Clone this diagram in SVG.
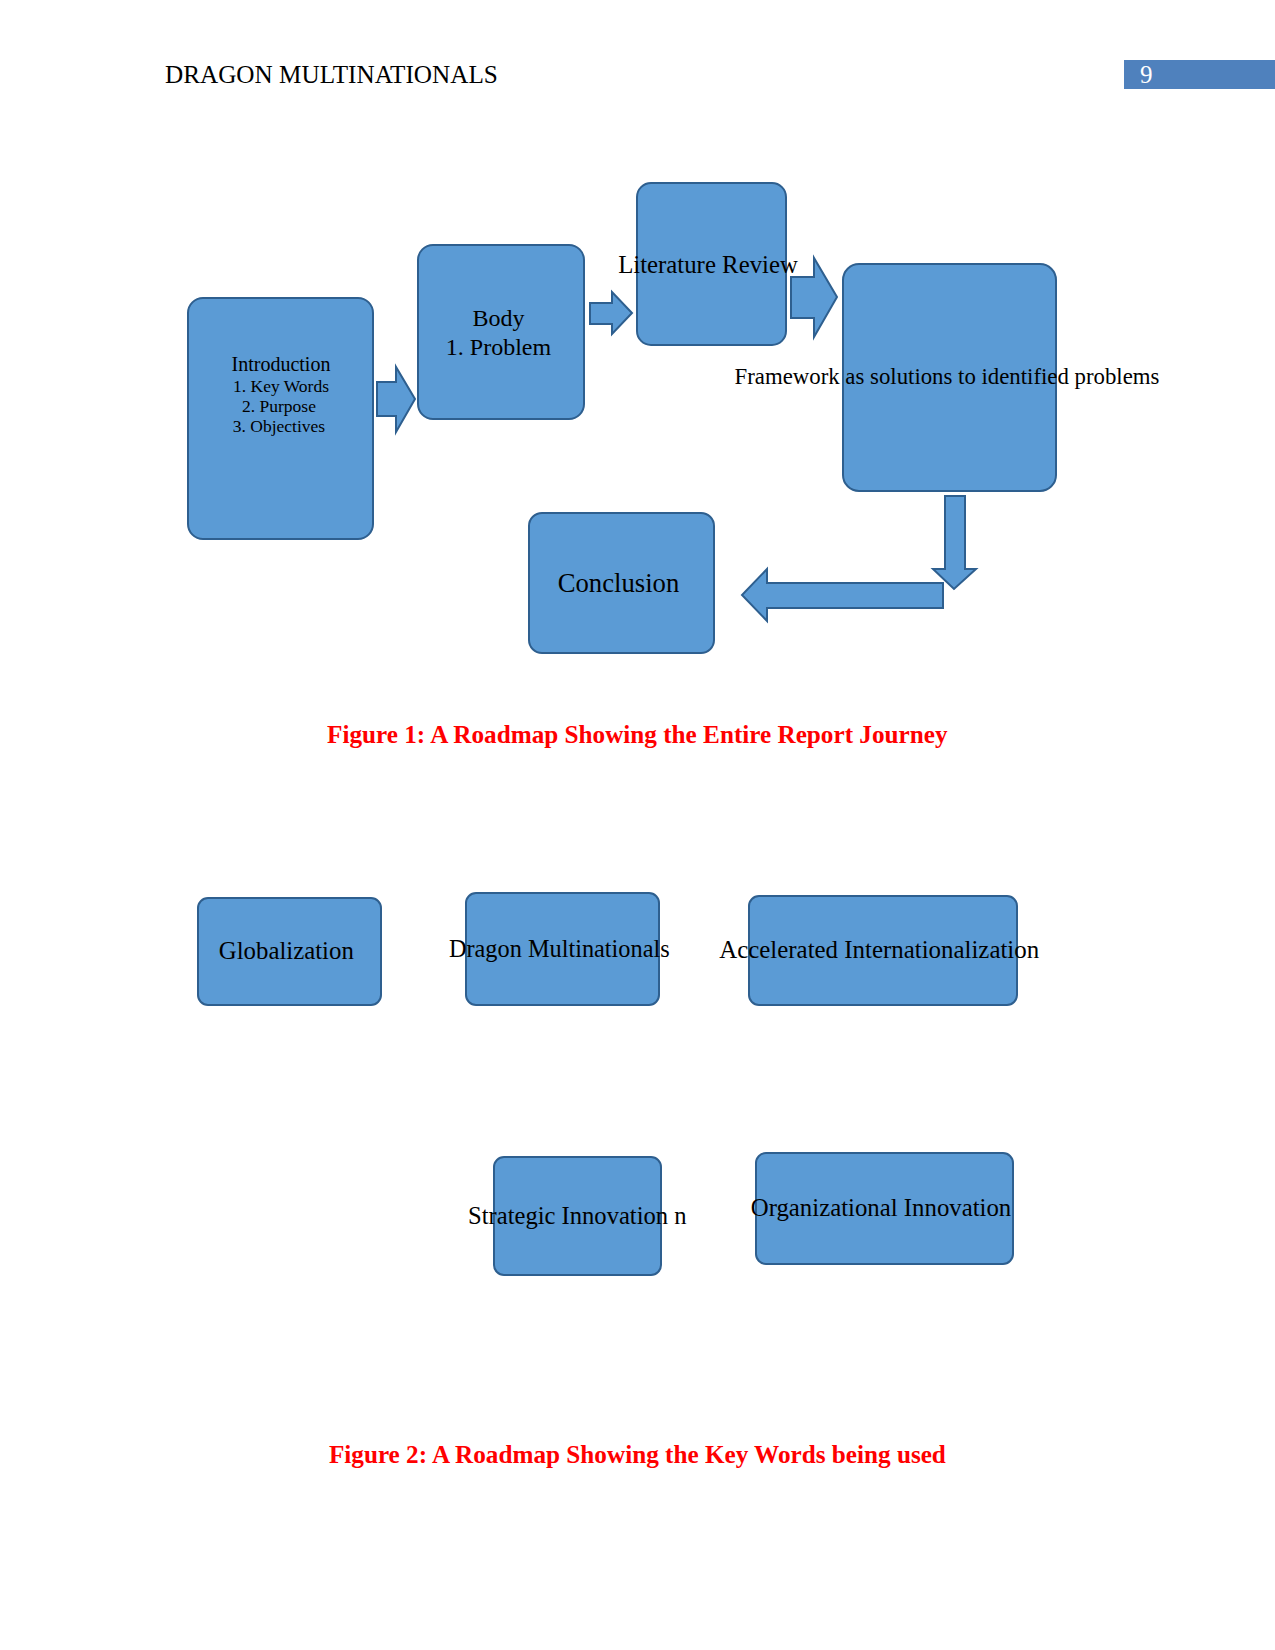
<svg xmlns="http://www.w3.org/2000/svg" width="1275" height="1650" viewBox="0 0 1275 1650">
<style>
.box{fill:#5B9BD5;stroke:#2E5F8F;stroke-width:2}
.arr{fill:#5B9BD5;stroke:#2E5F8F;stroke-width:2;stroke-linejoin:miter}
.t{font-family:"Liberation Serif","Times New Roman",serif;fill:#000;text-anchor:middle}
.cap{font-family:"Liberation Serif","Times New Roman",serif;font-weight:bold;fill:#FF0000;text-anchor:middle;font-size:25.2px}
</style>
<rect width="1275" height="1650" fill="#fff"/>
<g id="header">
<text x="165" y="83" font-family="Liberation Serif, serif" font-size="25.2" fill="#000">DRAGON MULTINATIONALS</text>
<rect x="1124" y="60" width="151" height="29" fill="#4F81BD"/>
<text x="1140" y="83" font-family="Liberation Serif, serif" font-size="25" fill="#fff">9</text>
</g>
<g id="connectors">
<polygon class="arr" points="377,382 396,382 396,367 415,399 396,432 396,416 377,416"/>
<polygon class="arr" points="590,303 612,303 612,292 632,313 612,334 612,324 590,324"/>
<polygon class="arr" points="791,277 814,277 814,258 837,297 814,337 814,318 791,318"/>
<polygon class="arr" points="943,583 767,583 767,569 742,595 767,621 767,608 943,608"/>
<polygon class="arr" points="945,496 965,496 965,569 976,569 954,589 933,569 945,569"/>
</g>
<g id="introduction">
<rect class="box" x="188" y="298" width="185" height="241" rx="15"/>
<text class="t" x="281" y="371" font-size="20">Introduction</text>
<text class="t" x="281" y="392" font-size="17.5">1. Key Words</text>
<text class="t" x="279" y="412" font-size="17.5">2. Purpose</text>
<text class="t" x="279" y="432" font-size="17.5">3. Objectives</text>
</g>
<g id="body">
<rect class="box" x="418" y="245" width="166" height="174" rx="15"/>
<text class="t" x="498.5" y="326" font-size="24">Body</text>
<text class="t" x="498.5" y="355" font-size="24">1. Problem</text>
</g>
<g id="literature-review">
<rect class="box" x="637" y="183" width="149" height="162" rx="14"/>
<text class="t" x="708" y="273" font-size="24.8">Literature Review</text>
</g>
<g id="framework">
<rect class="box" x="843" y="264" width="213" height="227" rx="16"/>
<text class="t" x="947" y="384" font-size="22.8">Framework as solutions to identified problems</text>
</g>
<g id="conclusion">
<rect class="box" x="529" y="513" width="185" height="140" rx="13"/>
<text class="t" x="618.5" y="592" font-size="26.7">Conclusion</text>
</g>
<g id="caption1">
<text class="cap" x="637.3" y="743">Figure 1: A Roadmap Showing the Entire Report Journey</text>
</g>
<g id="globalization">
<rect class="box" x="198" y="898" width="183" height="107" rx="10"/>
<text class="t" x="286.3" y="959" font-size="24.8">Globalization</text>
</g>
<g id="dragon-multinationals">
<rect class="box" x="466" y="893" width="193" height="112" rx="10"/>
<text class="t" x="559.3" y="957" font-size="24.3">Dragon Multinationals</text>
</g>
<g id="accelerated-internationalization">
<rect class="box" x="749" y="896" width="268" height="109" rx="10"/>
<text class="t" x="879.2" y="958" font-size="24.9">Accelerated Internationalization</text>
</g>
<g id="strategic-innovation">
<rect class="box" x="494" y="1157" width="167" height="118" rx="10"/>
<text class="t" x="577.3" y="1224" font-size="24.6">Strategic Innovation n</text>
</g>
<g id="organizational-innovation">
<rect class="box" x="756" y="1153" width="257" height="111" rx="10"/>
<text class="t" x="881" y="1216" font-size="24.8">Organizational Innovation</text>
</g>
<g id="caption2">
<text class="cap" x="637.4" y="1463">Figure 2: A Roadmap Showing the Key Words being used</text>
</g>
</svg>
